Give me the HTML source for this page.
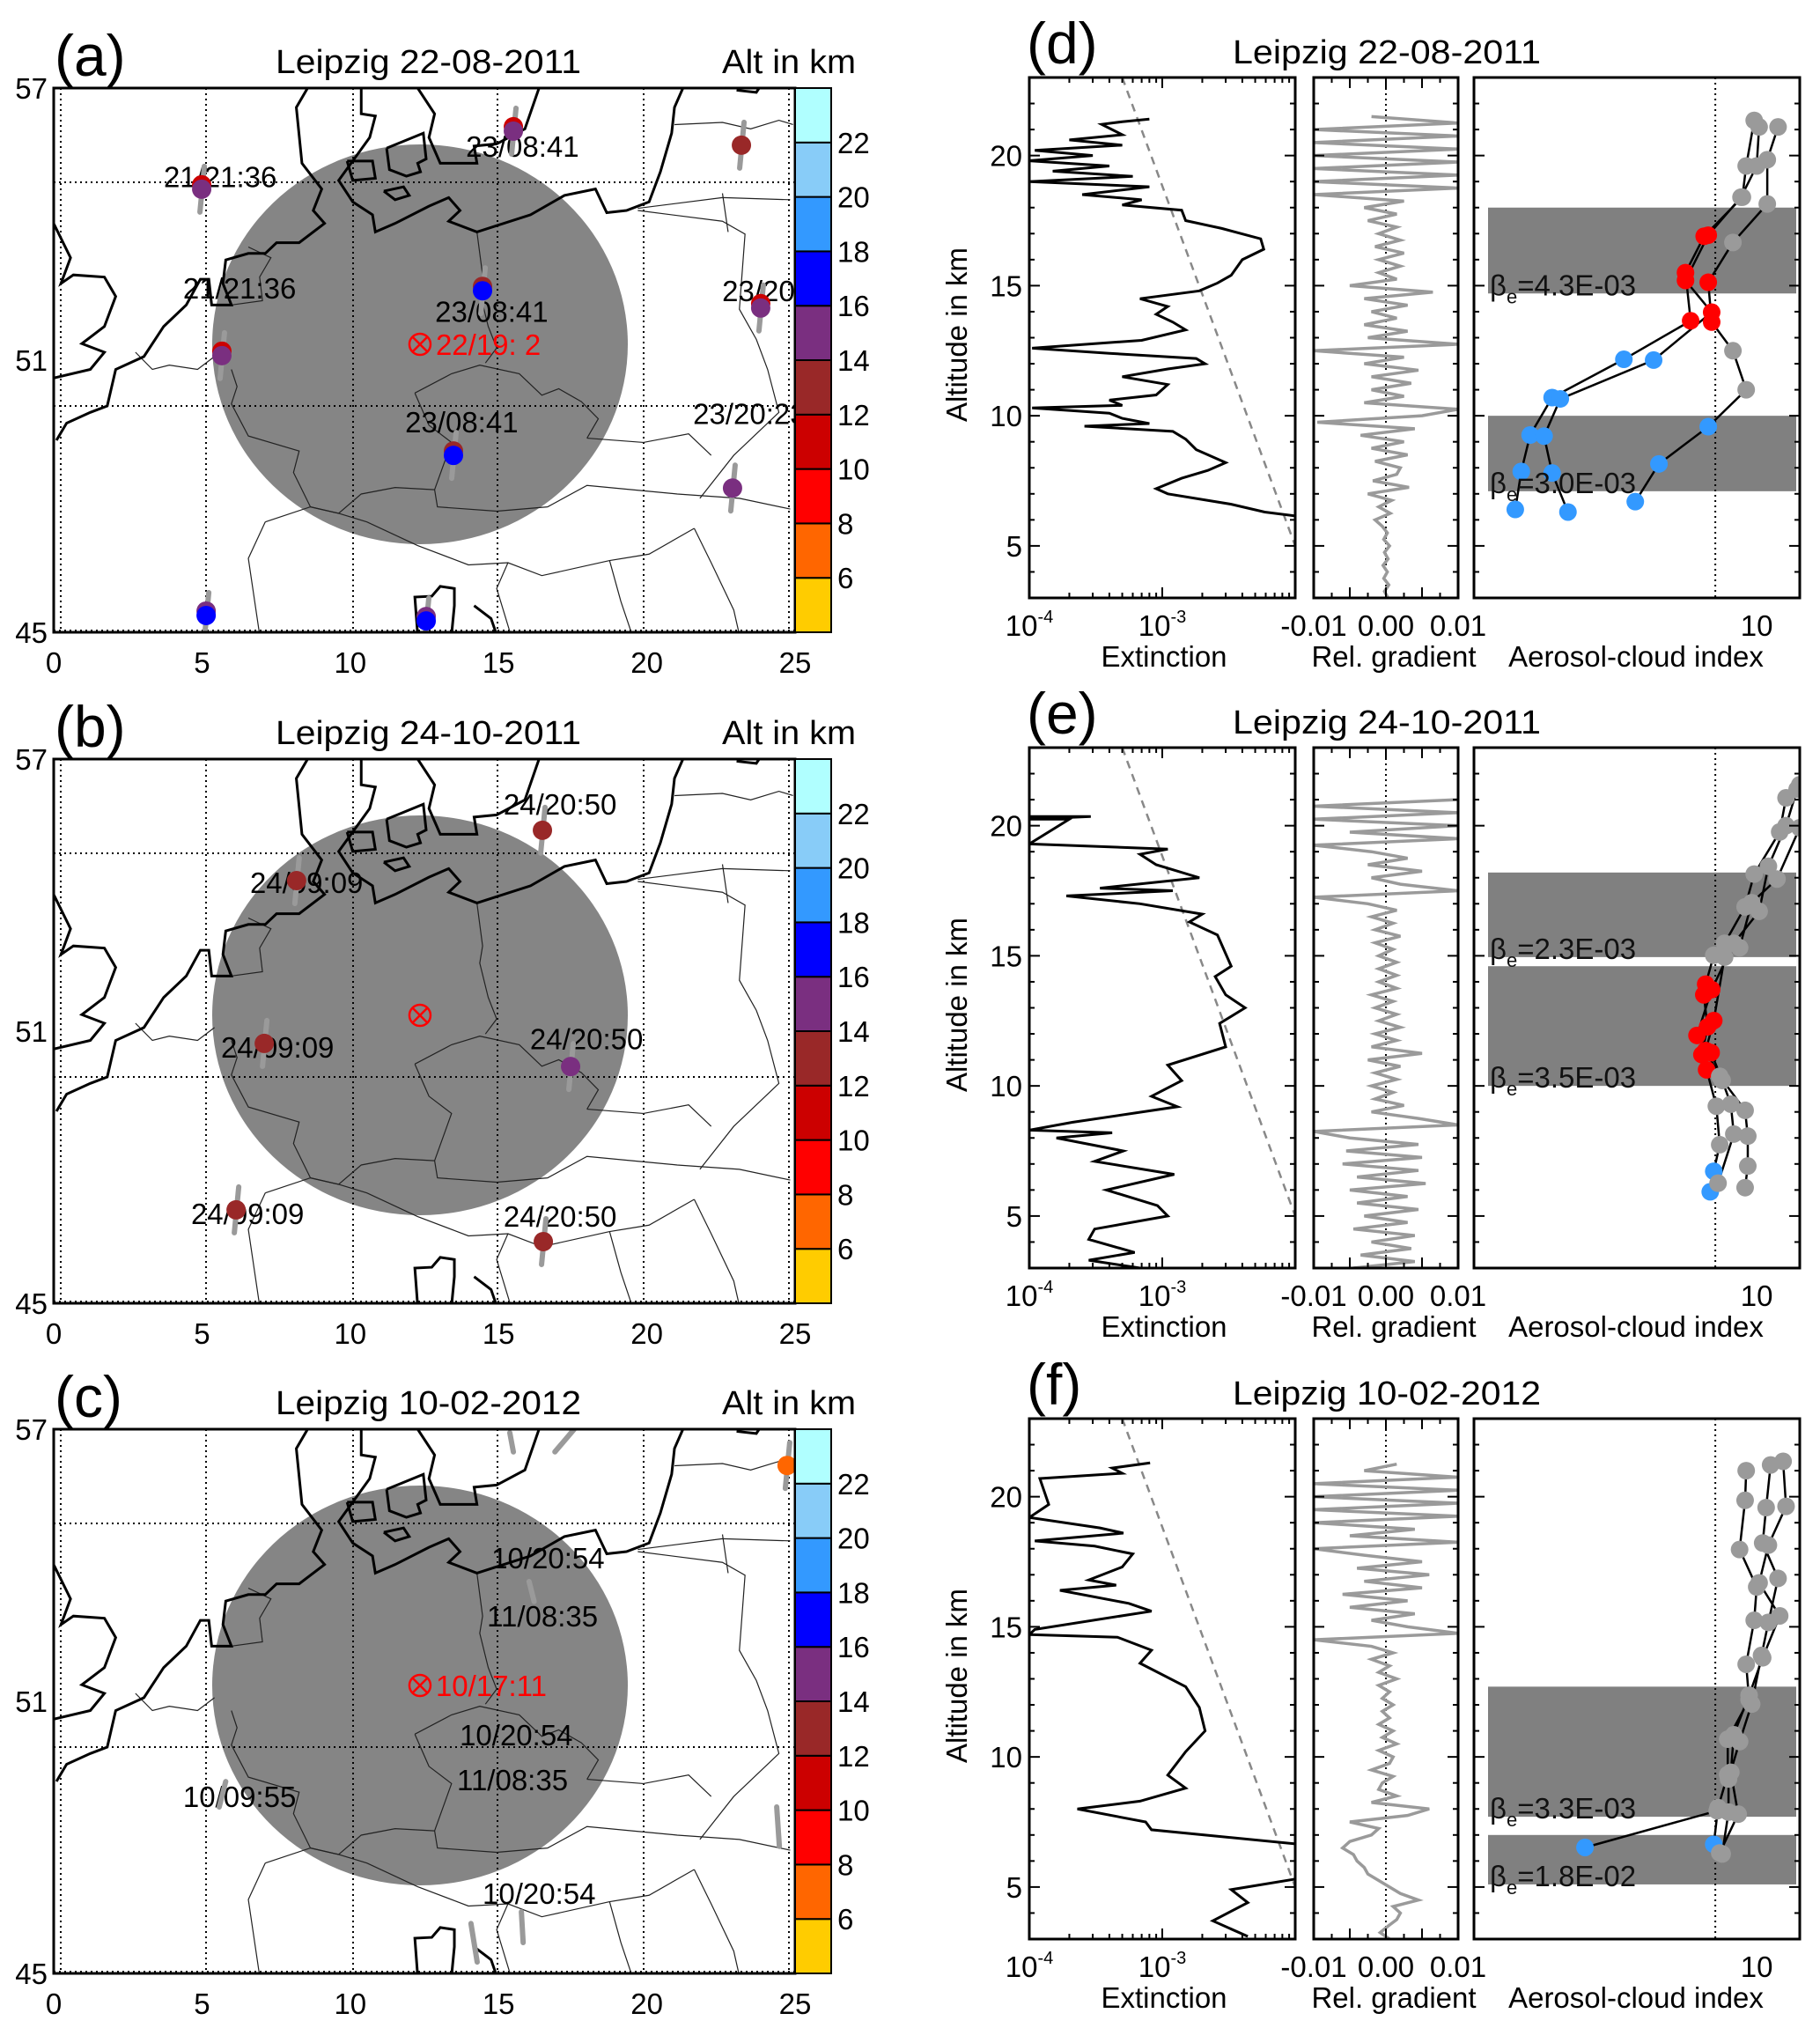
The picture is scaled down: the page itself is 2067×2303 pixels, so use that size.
<!DOCTYPE html>
<html><head><meta charset="utf-8"><title>Leipzig aerosol-cloud figure</title>
<style>body{margin:0;background:#fff}svg{display:block;font-family:"Liberation Sans",sans-serif}</style>
</head><body>
<svg id="fig" width="2067" height="2303" viewBox="0 0 2067 2303" xmlns="http://www.w3.org/2000/svg">
<rect width="2067" height="2303" fill="#fff"/>
</svg>
<script>
// ---------- MAP DATA ----------
const mapTitles=["Leipzig 22-08-2011","Leipzig 24-10-2011","Leipzig 10-02-2012"];
const mapLetters=["(a)","(b)","(c)"];
const mapXTicks=[0,5,10,15,20,25];
const mapYTicks=[57,51,45];
const cbTicks=[6,8,10,12,14,16,18,20,22];
const cbBounds=[4,6,8,10,12,14,16,18,20,22,24];
const cbColors=["#ffcc00","#ff6600","#ff0000","#cc0000","#992828","#7a2f80","#0000ff","#3399ff","#88ccf8","#b0ffff"];
const siteLon=12.35, siteLat=51.35;
// panel (a)
const mkLonA=[4.99,15.5,23.19,14.46,23.84,5.67,13.48,22.89,5.14,12.56];
const mkLatA=[54.77,56.05,55.74,52.53,52.15,51.1,48.9,48.18,45.37,45.25];
const mkAltA=[15,15,13,17,15,15,17,15,17,17];
const mkUnderA=[11,11,null,13,11,11,13,null,15,15];
const lbTextA=["21/21:36","23/08:41","23/08:41","23/20:23","21/21:36","23/08:41","23/20:23"];
const lbLonA=[3.71,13.9,12.86,22.54,4.36,11.85,21.56];
const lbLatA=[54.82,55.49,51.84,52.3,52.36,49.41,49.59];
const siteTextA="22/19: 2";
// panel (b)
const mkLonB=[16.48,8.19,7.1,17.43,6.15,16.51];
const mkLatB=[55.43,54.32,50.73,50.22,47.06,46.36];
const mkAltB=[13,13,13,15,13,13];
const mkUnderB=[null,null,null,null,null,null];
const lbTextB=["24/20:50","24/09:09","24/09:09","24/20:50","24/09:09","24/20:50"];
const lbLonB=[15.17,6.62,5.64,16.06,4.63,15.17];
const lbLatB=[55.78,54.05,50.42,50.6,46.75,46.69];
const siteTextB="";
// panel (c)
const mkLonC=[24.73];
const mkLatC=[56.2];
const mkAltC=[7];
const mkUnderC=[null];
const lbTextC=["10/20:54","11/08:35","10/20:54","11/08:35","10/09:55","10/20:54"];
const lbLonC=[14.76,14.61,13.69,13.6,4.36,14.46];
const lbLatC=[53.93,52.65,50.03,49.04,48.67,46.53];
const siteTextC="10/17:11";
const stemLon1C=[15.38,16.9,16.03,5.8,24.38,15.77,14.07,4.9];
const stemLat1C=[56.92,56.5,53.64,49.23,48.67,46.36,46.1,44.96];
const stemLon2C=[15.5,17.55,16.2,5.58,24.47,15.83,14.28,5.14];
const stemLat2C=[56.5,57.0,53.2,48.67,47.8,45.68,45.25,44.26];

// ---------- PROFILE DATA ----------
const profTitles=["Leipzig 22-08-2011","Leipzig 24-10-2011","Leipzig 10-02-2012"];
const profLetters=["(d)","(e)","(f)"];
const altTicks=[5,10,15,20];
const extAltD=[21.4,21.3,21.2,20.8,20.6,20.4,20.2,20.0,19.8,19.6,19.4,19.2,19.0,18.8,18.5,18.3,18.1,17.9,17.5,17.2,16.8,16.4,16.0,15.4,15.1,14.8,14.5,14.2,13.9,13.6,13.3,12.9,12.6,12.4,12.2,12.0,11.8,11.5,11.2,10.8,10.6,10.4,10.3,10.1,9.9,9.7,9.6,9.4,9.1,8.7,8.2,7.9,7.6,7.2,7.0,6.6,6.3,6.1];
const extValD=[8e-4,5e-4,3.5e-4,5e-4,2e-4,5e-4,1.1e-4,3e-4,1e-4,4e-4,1.5e-4,6e-4,1e-4,8e-4,2.5e-4,7e-4,5e-4,1.4e-3,1.5e-3,2.8e-3,5.5e-3,5.8e-3,4e-3,3.3e-3,2.6e-3,1.9e-3,6.8e-4,1.1e-3,9e-4,1.2e-3,1.5e-3,7e-4,1.05e-4,4e-4,1.8e-3,2.1e-3,1.1e-3,5e-4,1.1e-3,9e-4,4e-4,5e-4,1.05e-4,4e-4,5e-4,8e-4,2.6e-4,1.2e-3,1.5e-3,1.8e-3,3.0e-3,2.2e-3,1.4e-3,9e-4,1.1e-3,3.3e-3,5.9e-3,1.2e-2];
const extAltE=[20.35,20.35,20.25,20.25,19.3,19.1,18.9,18.5,18.0,17.6,17.5,17.3,17.0,16.6,16.3,15.8,14.6,14.2,13.5,13.0,12.4,11.5,10.8,10.2,9.6,9.2,8.6,8.3,8.2,8.0,7.5,7.1,6.6,6.0,5.4,5.0,4.5,4.1,3.6,3.3,3.0];
const extValE=[1e-4,2.9e-4,1e-4,2e-4,1e-4,1.1e-3,6.8e-4,9e-4,1.9e-3,3.4e-4,1.2e-3,1.9e-4,6.8e-4,2e-3,1.6e-3,2.6e-3,3.3e-3,2.5e-3,3e-3,4.2e-3,2.7e-3,3e-3,1.1e-3,1.4e-3,8.3e-4,1.3e-3,2.1e-4,1e-4,4.2e-4,1.6e-4,5.1e-4,3.1e-4,1.23e-3,3.8e-4,9.2e-4,1.1e-3,3.1e-4,2.8e-4,6.2e-4,2.8e-4,6.8e-4];
const extAltF=[21.3,21.1,20.9,20.7,19.7,19.2,18.8,18.6,18.3,18.1,17.8,17.3,16.8,16.6,16.4,15.9,15.6,14.9,14.7,14.6,14.1,13.6,12.7,11.9,11.0,10.2,9.3,8.8,8.3,8.0,7.5,7.2,6.6,5.4,4.9,4.4,3.7,3.1];
const extValF=[8.1e-4,4.2e-4,5e-4,1.2e-4,1.4e-4,1e-4,3.4e-4,5.1e-4,1.1e-4,3.1e-4,6e-4,5e-4,2.8e-4,4.5e-4,1.7e-4,5.6e-4,8.3e-4,1.1e-4,1e-4,4.6e-4,8.3e-4,6.8e-4,1.5e-3,1.9e-3,2.1e-3,1.5e-3,1.1e-3,1.5e-3,6.8e-4,2.3e-4,7.5e-4,8.3e-4,1.3e-2,1.3e-2,3.3e-3,4.4e-3,2.4e-3,4.4e-3];
// relative gradient (units 1e-3) on 0.25 km grid starting at 3.0 km
const gradStart=3.0, gradStep=0.25;
const gradD=[0.3,-0.2,0.4,-0.3,0.2,-0.4,0.3,-0.2,0.5,-0.3,0.2,-0.5,-1.5,0.6,-1.0,0.8,-2.5,3.2,-1.8,1.5,2.0,-1.5,3.0,-2.0,2.5,-3.5,4.0,-9.5,5.0,10,-3.0,2.5,-2.0,3.5,-2.0,4.5,-3.0,2.5,-10,10,-2.5,3.0,-3.0,1.5,-2.0,3.0,-3.0,6.5,-5.0,1.5,-1.0,2.0,-1.0,2.5,-1.5,2.0,-1.0,1.5,-2.5,1.5,-3.0,2.5,-10,10,-10,10,-10,10,-10,10,-10,10,-10,10,-2.0];
const gradE=[-4.5,4.0,-3.5,3.5,-2.0,4.0,-4.5,3.0,-3.0,4.5,-4.0,3.0,-5.0,5.5,-4.0,4.5,-6.0,5.0,-5.5,4.5,-5.0,-10,10,4.5,-2.0,2.5,-1.5,1.0,-2.0,1.5,-1.5,2.0,-2.5,5.0,-2.0,1.5,-1.5,2.0,-1.0,1.5,-1.5,1.0,-2.0,1.5,-1.0,1.5,-1.0,1.5,-1.0,1.0,-1.5,2.0,-1.5,1.0,-2.0,1.5,-2.5,-10,10,2.0,-2.0,5.0,-2.5,3.0,-2.0,-10,10,-5.0,10,-10,10,-10,10];
const gradF=[0.5,-0.8,0.3,1.5,2.0,1.0,4.5,2.0,0.5,-1.0,-2.5,-3.0,-4.0,-4.5,-6.0,-5.0,-2.0,-1.0,-5.0,3.0,6.0,-2.0,1.5,-1.0,-0.5,1.0,-2.0,0.5,1.0,-1.0,1.5,-0.5,1.0,-1.0,0.5,-0.5,1.0,-0.5,0.5,-1.0,1.5,-1.0,0.5,-2.0,1.0,-2.0,-10,10,3.0,-2.0,4.0,-5.0,3.0,-6.0,5.0,-3.0,6.0,-4.0,5.0,-3.0,-10,10,-5,4.0,-10,10,-10,10,-10,10,-10,10,-3.0,1.5];
// cloud layers and effective extinction labels
const bandTopD=[18.0,10.0], bandBotD=[14.7,7.1], bandLabD=["4.3E-03","3.0E-03"];
const bandTopE=[18.2,14.6], bandBotE=[14.95,10.0], bandLabE=["2.3E-03","3.5E-03"];
const bandTopF=[12.7,7.0], bandBotF=[7.7,5.1], bandLabF=["3.3E-03","1.8E-02"];
const idxThreshold=7.14;
// aerosol-cloud index series (g=gray, r=red, b=blue)
const idxD1Alt=[21.35,19.6,18.4,16.9,15.5,13.65,12.17,10.7,9.26,7.86,6.4];
const idxD1Val=[9.8,9.18,8.9,6.52,5.6,5.84,3.39,1.89,1.58,1.47,1.40];
const idxD1Col=["g","g","g","r","r","r","b","b","b","b","b"];
const idxD2Alt=[21.1,19.6,18.4,16.94,15.2,13.98,12.14,10.65,9.22,7.8,6.3];
const idxD2Val=[10.2,10.0,8.8,6.74,5.6,6.93,4.32,2.02,1.77,1.89,2.15];
const idxD2Col=["g","g","g","r","r","r","b","b","b","b","b"];
const idxD3Alt=[21.1,19.84,18.14,16.66,15.13,13.6,12.5,11.0,9.58,8.15,6.7];
const idxD3Val=[11.9,10.9,10.9,8.24,6.74,6.93,8.24,9.18,6.74,4.51,3.72];
const idxD3Col=["g","g","g","g","r","r","g","g","b","b","b"];
const idxE1Alt=[21.07,19.76,18.14,16.88,15.48,15.02,13.91,13.5,12.27,11.2,10.62,9.22,7.74,6.72,5.93];
const idxE1Val=[12.7,12.06,9.8,9.1,7.7,7.05,6.6,6.5,6.7,6.4,6.65,7.2,7.4,7.05,6.85];
const idxE1Col=["g","g","g","g","g","g","r","r","r","r","r","g","g","b","b"];
const idxE2Alt=[21.4,20.0,18.44,16.71,15.48,13.7,11.94,11.28,10.21,9.3,8.15,6.26];
const idxE2Val=[13.9,12.7,11.0,10.2,8.3,6.93,6.15,6.9,7.55,8.1,8.3,7.3];
const idxE2Col=["g","g","g","g","g","r","r","r","g","g","g","g"];
const idxE3Alt=[21.57,19.92,17.95,17.04,15.31,14.95,12.51,11.36,10.37,9.06,8.07,6.92,6.09];
const idxE3Val=[14.2,14.2,11.8,9.6,8.7,7.7,7.05,6.6,7.4,9.1,9.3,9.3,9.1];
const idxE3Col=["g","g","g","g","g","g","r","r","g","g","g","g","g"];
const idxF1Alt=[21.0,19.86,17.97,16.53,15.25,13.56,12.2,10.68,9.32,8.05,6.64];
const idxF1Val=[9.18,9.1,8.7,10.0,9.8,9.18,9.4,7.9,7.9,7.3,7.05];
const idxF1Col=["g","g","g","g","g","g","g","g","g","g","b"];
const idxF2Alt=[21.22,19.58,18.22,16.86,15.17,13.9,12.03,10.59,9.15,7.88,6.27];
const idxF2Val=[11.2,10.8,10.5,11.9,11.0,10.4,9.6,8.7,7.95,7.95,7.55];
const idxF2Col=["g","g","g","g","g","g","g","g","g","g","g"];
const idxF3Alt=[21.36,19.63,18.14,16.69,15.42,13.81,12.37,10.85,9.41,7.8,6.31];
const idxF3Val=[12.4,12.7,11.0,10.2,12.06,10.5,9.4,8.3,8.1,8.6,7.4];
const idxF3Col=["g","g","g","g","g","g","g","g","g","g","g"];
const idxF4Alt=[6.52,7.93];
const idxF4Val=[2.47,7.25];
const idxF4Col=["b","g"];

// ---------- helpers ----------
const NS="http://www.w3.org/2000/svg";
const svg=document.getElementById("fig");
function mk(tag,parent,a){const e=document.createElementNS(NS,tag);for(const k in a)e.setAttribute(k,a[k]);parent.appendChild(e);return e;}
function tx(parent,x,y,s,size,anchor,fill,len){const t=mk("text",parent,{x:x,y:y,"font-size":size,"text-anchor":anchor||"start",fill:fill||"#000"});if(len){t.setAttribute("textLength",len);t.setAttribute("lengthAdjust","spacingAndGlyphs");}t.textContent=s;return t;}
const ptColor={g:"#9a9a9a",r:"#ff0000",b:"#3399ff"};

// ---------- MAPS ----------
const ML=61,MR=903,MT=100,MB=718,CBR=944;
const mapOffsets=[0,762,1523];
const coast=[
 [[95,520],[125,600],[108,660],[130,640],[185,645],[205,690],[185,760],[145,800],[185,820],[160,860],[95,880]],
 [[100,1025],[118,985],[160,960],[190,945],[205,860],[255,830],[290,760],[330,710],[355,650],[370,650],[375,710],[410,710],[395,660],[400,605],[440,590],[470,590],[490,565],[530,565],[575,520],[555,490],[570,440],[535,380],[525,250],[545,205]],
 [[640,205],[640,265],[665,270],[655,320],[600,420],[625,470],[660,500],[665,540],[700,520],[760,480],[795,460],[815,490],[795,515],[845,540],[940,500],[1000,455],[1055,440],[1075,495],[1110,490],[1150,470],[1170,400],[1190,310],[1195,250],[1210,205]],
 [[740,205],[770,265],[760,320],[780,380],[845,380],[840,340],[880,335],[930,300],[955,205]],
 [[615,375],[660,375],[665,415],[625,420],[615,375]],
 [[685,345],[750,310],[755,370],[740,380],[745,400],[720,410],[690,395],[685,345]],
 [[680,445],[715,435],[725,455],[700,465],[680,445]],
 [[1305,210],[1340,215],[1345,205]],
 [[740,1478],[735,1390],[765,1388],[780,1365],[805,1370],[805,1410],[800,1478]],
 [[840,1410],[870,1440],[880,1478]]
];
const borders=[
 [[240,820],[270,860],[300,850],[350,860],[380,830]],
 [[410,710],[465,700],[460,645],[480,600],[440,575]],
 [[410,860],[420,900],[410,940],[440,1015],[530,1050],[520,1100],[550,1180],[600,1195],[640,1150],[700,1135],[770,1140]],
 [[845,540],[855,640],[850,680],[865,760],[880,810],[860,845]],
 [[735,915],[800,870],[850,850],[920,870],[960,920],[990,905],[1030,935],[1060,975],[1040,1020]],
 [[735,915],[760,990],[800,1030],[770,1140],[775,1180],[880,1190],[970,1180],[1040,1130],[1120,1140],[1200,1150],[1310,1160],[1400,1185]],
 [[1130,490],[1280,515],[1320,545],[1310,720],[1340,790],[1360,860],[1380,960],[1300,1060],[1240,1160]],
 [[1195,290],[1280,285],[1330,300],[1380,280],[1405,290]],
 [[1130,485],[1280,460],[1400,465]],
 [[470,1215],[550,1180],[600,1195]],
 [[470,1215],[440,1300],[460,1478]],
 [[600,1195],[650,1215],[740,1270],[830,1315],[900,1310],[960,1340],[1080,1305],[1150,1290],[1230,1230]],
 [[900,1310],[880,1370],[905,1478]],
 [[1080,1305],[1100,1400],[1120,1478]],
 [[1230,1230],[1260,1310],[1300,1420],[1310,1478]],
 [[1040,1020],[1140,1030],[1220,1010],[1260,1060]],
 [[1280,450],[1290,540]]
];
const mapPanels=[
 {lon:mkLonA,lat:mkLatA,alt:mkAltA,under:mkUnderA,lt:lbTextA,llon:lbLonA,llat:lbLatA,site:siteTextA},
 {lon:mkLonB,lat:mkLatB,alt:mkAltB,under:mkUnderB,lt:lbTextB,llon:lbLonB,llat:lbLatB,site:siteTextB},
 {lon:mkLonC,lat:mkLatC,alt:mkAltC,under:mkUnderC,lt:lbTextC,llon:lbLonC,llat:lbLatC,site:siteTextC}
];
function altColor(a){for(let i=0;i<cbColors.length;i++){if(a<cbBounds[i+1])return cbColors[i];}return cbColors[cbColors.length-1];}

mapPanels.forEach((P,pi)=>{
 const off=mapOffsets[pi];
 const g=mk("g",svg,{});
 
 
 const xs=lon=>ML+lon/25*(MR-ML);
 const ys=lat=>off+MT+(57-lat)/12*(MB-MT);
 const dx=v=>v/1.56, dy=v=>v/2.05+off;
 const clip=mk("clipPath",g,{id:"mclip"+pi});
 mk("rect",clip,{x:ML,y:off+MT,width:MR-ML,height:MB-MT});
 const inner=mk("g",g,{"clip-path":"url(#mclip"+pi+")"});
 const circ=mk("ellipse",inner,{cx:477,cy:off+391,rx:236,ry:227,fill:"#858585"});
 
 
 [69,234,401,565,731,896].forEach(x=>{mk("line",inner,{x1:x,x2:x,y1:off+MT,y2:off+MB,stroke:"#000","stroke-width":2,"stroke-dasharray":"2,4"});});
 [207,461,716].forEach(y=>{mk("line",inner,{x1:ML,x2:MR,y1:off+y,y2:off+y,stroke:"#000","stroke-width":2,"stroke-dasharray":"2,4"});});
 borders.forEach(b=>{const p=mk("polyline",inner,{points:b.map(q=>dx(q[0])+","+dy(q[1])).join(" "),fill:"none",stroke:"#222","stroke-width":1.2});
  
  });
 coast.forEach(b=>{const p=mk("polyline",inner,{points:b.map(q=>dx(q[0])+","+dy(q[1])).join(" "),fill:"none",stroke:"#000","stroke-width":3});
  
  });
 P.lt.forEach((s,i)=>{const t=tx(inner,xs(P.llon[i]),ys(P.llat[i]),s,33,"start","#000");
  
  });
 if(pi===2){stemLon1C.forEach((v,i)=>{const l=mk("line",inner,{x1:xs(v),y1:ys(stemLat1C[i]),x2:xs(stemLon2C[i]),y2:ys(stemLat2C[i]),stroke:"#9a9a9a","stroke-width":6,"stroke-linecap":"round"});
  
  });}
 P.lon.forEach((lon,i)=>{
  const x=xs(lon),y=ys(P.lat[i]);
  const st=mk("line",inner,{x1:x+3,y1:y-26,x2:x-2,y2:y+26,stroke:"#9a9a9a","stroke-width":6,"stroke-linecap":"round"});
  
  
  if(P.under[i]!=null){const u=mk("circle",inner,{cx:x,cy:y-5,r:11,fill:altColor(P.under[i])});
   
   }
  const c=mk("circle",inner,{cx:x,cy:y,r:11,fill:altColor(P.alt[i])});
  
  
 });
 const sx=xs(siteLon),sy=ys(siteLat);
 const sg=mk("g",g,{});
 
 
 mk("circle",sg,{cx:sx,cy:sy,r:12,fill:"none",stroke:"#ff0000","stroke-width":2.5});
 mk("line",sg,{x1:sx-8,y1:sy-8,x2:sx+8,y2:sy+8,stroke:"#ff0000","stroke-width":2.5});
 mk("line",sg,{x1:sx+8,y1:sy-8,x2:sx-8,y2:sy+8,stroke:"#ff0000","stroke-width":2.5});
 if(P.site){const t=tx(g,sx+18,sy+12,P.site,33,"start","#ff0000");
  
  }
 const fr=mk("rect",g,{x:ML,y:off+MT,width:MR-ML,height:MB-MT,fill:"none",stroke:"#000","stroke-width":3});
 
 
 const cb=mk("g",g,{});
 
 
 const cy=a=>off+MB-(a-4)/20*(MB-MT);
 cbColors.forEach((col,i)=>{mk("rect",cb,{x:MR,y:cy(cbBounds[i+1]),width:CBR-MR,height:cy(cbBounds[i])-cy(cbBounds[i+1]),fill:col,stroke:"#000","stroke-width":2});});
 cbTicks.forEach(v=>{const t=tx(cb,951,cy(v)+12,String(v),33,"start");
  
  });
 mapXTicks.forEach(v=>{const t=tx(g,xs(v),off+764,String(v),33,"middle");
  
  });
 mapYTicks.forEach(v=>{const t=tx(g,54,ys(v)+12,String(v),33,"end");
  
  });
 const L=tx(g,62,off+86,mapLetters[pi],66,"start");
 
 
 const T=tx(g,313,off+83,mapTitles[pi],38,"start","#000",347);
 
 
 const A=tx(g,820,off+83,"Alt in km",38,"start","#000",152);
 
 
});

// ---------- PROFILES ----------
const PT=88,PB=679,ALT0=3,ALT1=23;
const EL=1169,ER=1471,GL=1492,GR=1656,IL=1674,IR=2044;
const profOffsets=[0,761,1523];
const profPanels=[
 {ea:extAltD,ev:extValD,gr:gradD,bt:bandTopD,bb:bandBotD,bl:bandLabD,idx:[[idxD1Alt,idxD1Val,idxD1Col],[idxD2Alt,idxD2Val,idxD2Col],[idxD3Alt,idxD3Val,idxD3Col]]},
 {ea:extAltE,ev:extValE,gr:gradE,bt:bandTopE,bb:bandBotE,bl:bandLabE,idx:[[idxE1Alt,idxE1Val,idxE1Col],[idxE2Alt,idxE2Val,idxE2Col],[idxE3Alt,idxE3Val,idxE3Col]]},
 {ea:extAltF,ev:extValF,gr:gradF,bt:bandTopF,bb:bandBotF,bl:bandLabF,idx:[[idxF1Alt,idxF1Val,idxF1Col],[idxF2Alt,idxF2Val,idxF2Col],[idxF3Alt,idxF3Val,idxF3Col],[idxF4Alt,idxF4Val,idxF4Col]]}
];
profPanels.forEach((P,pi)=>{
 const off=profOffsets[pi];
 const g=mk("g",svg,{});
 
 
 const ya=a=>off+PB-(a-ALT0)/(ALT1-ALT0)*(PB-PT);
 const xe=v=>EL+(Math.log10(v)+4)/2*(ER-EL);
 const xg=v=>GL+(v+10)/20*(GR-GL);
 const xi=v=>IL+Math.log10(v)/Math.log10(14.2)*(IR-IL);
 ["e","g","i"].forEach((k,j)=>{const c=mk("clipPath",g,{id:"pc"+k+pi});const L=[EL,GL,IL][j],R=[ER,GR,IR][j];mk("rect",c,{x:L,y:off+PT,width:R-L,height:PB-PT});});
 const eg=mk("g",g,{"clip-path":"url(#pce"+pi+")"});
 const dl=mk("line",eg,{x1:xe(5e-4),y1:ya(23),x2:xe(1e-2),y2:ya(5),stroke:"#888","stroke-width":2.5,"stroke-dasharray":"9,7"});
 
 
 const ep=mk("polyline",eg,{points:P.ea.map((a,i)=>xe(P.ev[i])+","+ya(a)).join(" "),fill:"none",stroke:"#000","stroke-width":3});
 
 
 const gg=mk("g",g,{"clip-path":"url(#pcg"+pi+")"});
 mk("line",gg,{x1:xg(0),x2:xg(0),y1:off+PT,y2:off+PB,stroke:"#000","stroke-width":2,"stroke-dasharray":"2,4"});
 const gp=mk("polyline",gg,{points:P.gr.map((v,i)=>xg(v)+","+ya(gradStart+i*gradStep)).join(" "),fill:"none",stroke:"#9a9a9a","stroke-width":3.5});
 
 
 const ig=mk("g",g,{"clip-path":"url(#pci"+pi+")"});
 P.bt.forEach((t,i)=>{const r=mk("rect",ig,{x:1690,y:ya(t),width:2040-1690,height:ya(P.bb[i])-ya(t),fill:"#808080"});
  
  });
 mk("line",ig,{x1:xi(idxThreshold),x2:xi(idxThreshold),y1:off+PT,y2:off+PB,stroke:"#000","stroke-width":2,"stroke-dasharray":"2,4"});
 P.idx.forEach(S=>{const l=mk("polyline",ig,{points:S[0].map((a,i)=>xi(S[1][i])+","+ya(a)).join(" "),fill:"none",stroke:"#000","stroke-width":2.5});
  
  });
 P.idx.forEach(S=>{S[0].forEach((a,i)=>{const c=mk("circle",ig,{cx:xi(S[1][i]),cy:ya(a),r:10,fill:ptColor[S[2][i]]});
  
  });});
 P.bl.forEach((s,i)=>{const t=mk("text",g,{x:1692,y:ya(P.bb[i])+2,"font-size":33,fill:"#111"});
  
  
  const a=mk("tspan",t,{});a.textContent="β";
  const b=mk("tspan",t,{"font-size":22,dy:9});b.textContent="e";
  const c=mk("tspan",t,{dy:-9});c.textContent="="+s;});
 [[EL,ER],[GL,GR],[IL,IR]].forEach((lr,j)=>{
  const f=mk("rect",g,{x:lr[0],y:off+PT,width:lr[1]-lr[0],height:PB-PT,fill:"none",stroke:"#000","stroke-width":3});
  
  
  for(let a=4;a<=22;a++){const big=a%5===0;const len=big?12:6;
   mk("line",g,{x1:lr[0],x2:lr[0]+len,y1:ya(a),y2:ya(a),stroke:"#000","stroke-width":2});
   mk("line",g,{x1:lr[1],x2:lr[1]-len,y1:ya(a),y2:ya(a),stroke:"#000","stroke-width":2});}
 });
 for(let d=-4;d<-2;d++){for(let m=1;m<10;m++){const x=xe(m*Math.pow(10,d));const len=m===1?12:6;
  mk("line",g,{x1:x,x2:x,y1:off+PB,y2:off+PB-len,stroke:"#000","stroke-width":2});
  mk("line",g,{x1:x,x2:x,y1:off+PT,y2:off+PT+len,stroke:"#000","stroke-width":2});}}
 [-7.5,-5,-2.5,0,2.5,5,7.5].forEach(v=>{const len=v%5===0?12:6;
  mk("line",g,{x1:xg(v),x2:xg(v),y1:off+PB,y2:off+PB-len,stroke:"#000","stroke-width":2});
  mk("line",g,{x1:xg(v),x2:xg(v),y1:off+PT,y2:off+PT+len,stroke:"#000","stroke-width":2});});
 altTicks.forEach(a=>{const t=tx(g,1161,ya(a)+12,String(a),33,"end");
  
  });
 [[-4,EL],[-3,xe(1e-3)]].forEach(q=>{const t=mk("text",g,{x:q[1],y:off+722,"font-size":33,"text-anchor":"middle"});
  
  
  const a=mk("tspan",t,{});a.textContent="10";
  const b=mk("tspan",t,{"font-size":20,dy:-15});b.textContent=String(q[0]);});
 [["-0.01",-10],["0.00",0],["0.01",10]].forEach(q=>{const t=tx(g,xg(q[1]),off+722,q[0],33,"middle");
  
  });
 const ti=tx(g,xi(10),off+722,"10",33,"middle");
 
 
 [["Extinction",1322,"extinction-axis-title"],["Rel. gradient",1583,"gradient-axis-title"],["Aerosol-cloud index",1858,"index-axis-title"]].forEach(q=>{const t=tx(g,q[1],off+757,q[0],33,"middle");
  
  });
 const yt=tx(g,0,0,"Altitude in km",33,"middle");
 yt.setAttribute("transform","translate(1098,"+(off+380)+") rotate(-90)");
 
 
 const L=tx(g,1166,off+72,profLetters[pi],66,"start");
 
 
 const T=tx(g,1400,off+72,profTitles[pi],38,"start","#000",350);
 
 
});
</script>
</body></html>
